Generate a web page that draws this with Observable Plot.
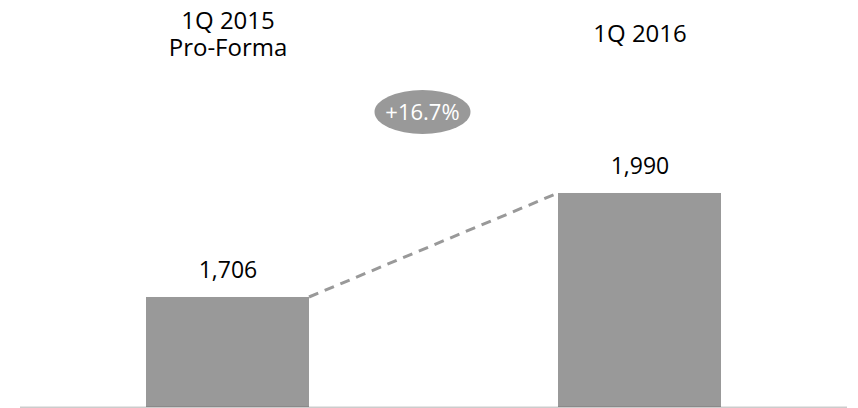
<!DOCTYPE html>
<html>
<head>
<meta charset="utf-8">
<script src="https://cdn.jsdelivr.net/npm/d3@7"></script>
<script src="https://cdn.jsdelivr.net/npm/@observablehq/plot@0.6"></script>
<style>
  html, body { margin: 0; padding: 0; background: #fff; }
  #chart svg { display: block; }
</style>
</head>
<body>
<div id="chart"></div>
<script>
// Data
const categories = ["1Q 2015 Pro-Forma", "1Q 2016"];
const headerLabels = ["1Q 2015\nPro-Forma", "1Q 2016"];
const values = [1706, 1990];
const growthLabel = "+16.7%";

const yMin = 1405.6;
const yMax = 2517;
const rows = categories.map((c, i) => ({cat: c, header: headerLabels[i], value: values[i]}));

const FONT = "'Open Sans', Lato, sans-serif";
const GRAY = "#999999";

function connector(index, scales) {
  const x = scales.x, y = scales.y;
  const bw = x.bandwidth ? x.bandwidth() : 163.4;
  const g = d3.create("svg:g");
  g.append("line")
    .attr("x1", x(categories[0]) + bw)
    .attr("y1", y(values[0]))
    .attr("x2", x(categories[1]))
    .attr("y2", y(values[1]))
    .attr("stroke", GRAY)
    .attr("stroke-width", 3)
    .attr("stroke-dasharray", "10,7");
  return g.node();
}

function badge(index, scales) {
  const x = scales.x, y = scales.y;
  const bw = x.bandwidth ? x.bandwidth() : 163.4;
  const cx = (x(categories[0]) + bw + x(categories[1])) / 2 - 11;
  const cy = y(values[1]) - 81;
  const g = d3.create("svg:g");
  g.append("ellipse")
    .attr("cx", cx).attr("cy", cy)
    .attr("rx", 48).attr("ry", 22)
    .attr("fill", GRAY);
  g.append("text")
    .attr("x", cx).attr("y", cy)
    .attr("text-anchor", "middle")
    .attr("dy", "0.35em")
    .attr("fill", "#fff")
    .attr("font-family", FONT)
    .attr("font-size", 22)
    .text(growthLabel);
  return g.node();
}

const plot = Plot.plot({
  width: 858,
  height: 408,
  marginTop: 0,
  marginBottom: 1,
  marginLeft: 0,
  marginRight: 0,
  style: {fontFamily: FONT, background: "#fff"},
  x: {type: "band", domain: categories, range: [146, 722], paddingInner: 0.604, paddingOuter: 0, axis: null},
  y: {domain: [yMin, yMax], axis: null},
  marks: [
    Plot.barY(rows, {x: "cat", y1: () => yMin, y2: "value", fill: GRAY}),
    connector,
    Plot.ruleY([yMin], {stroke: "#000", strokeOpacity: 0.2, strokeWidth: 2, insetLeft: 20, insetRight: 11}),
    Plot.text(rows, {x: "cat", y: "value", text: d => d3.format(",")(d.value), dy: -27, fontSize: 23, fill: "#000"}),
    Plot.text(rows, {x: "cat", text: "header", frameAnchor: "top", dy: 33, lineAnchor: "middle", lineHeight: 1.13, fontSize: 24, fill: "#000"}),
    badge
  ]
});
document.getElementById("chart").appendChild(plot);
</script>
</body>
</html>
